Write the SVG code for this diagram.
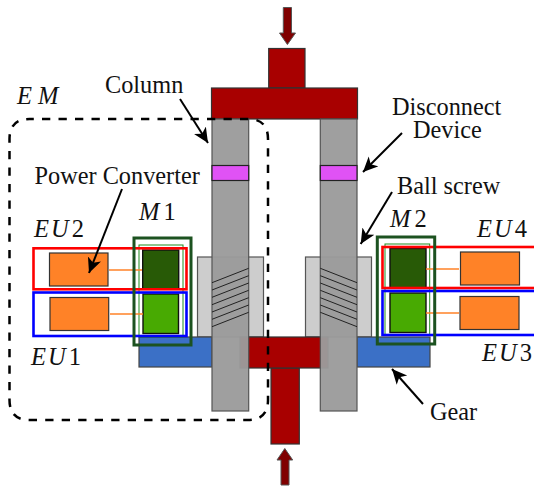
<svg xmlns="http://www.w3.org/2000/svg" width="534" height="486" viewBox="0 0 534 486">
<style>
.t{font-family:"Liberation Serif",serif;font-size:24.3px;fill:#111}
.i{font-style:italic;font-size:24.5px}
.u{font-style:normal}
.o{fill:#ff8227;stroke:#333;stroke-width:1.2}
.c{fill:#9b9b9b;stroke:#555;stroke-width:1.2;fill-opacity:.96}
.r{fill:#a80000;stroke:#333;stroke-width:1.2}
.d{fill:#800000;stroke:#555;stroke-width:1}
.n{fill:#cdcdcd;stroke:#555;stroke-width:1.2}
.g{fill:#3b70c6;stroke:#444;stroke-width:1.2}
.p{fill:#e052f5;stroke:#222;stroke-width:1.2}
.m1{fill:#285a06;stroke:#111;stroke-width:1.4}
.m2{fill:#48aa02;stroke:#111;stroke-width:1.4}
.th{fill:none;stroke:#1e8c1e;stroke-width:1}
.fr{fill:none;stroke:#1c5220;stroke-width:3}
.eur{fill:none;stroke:#f00;stroke-width:2.6}
.eub{fill:none;stroke:#00f;stroke-width:2.6}
.l{stroke:#ff8227;stroke-width:1.5;fill:none}
.s{stroke:#222;stroke-width:1;fill:none}
.a{stroke:#000;stroke-width:2;fill:none;marker-end:url(#h)}
</style>
<defs>
<marker id="h" markerUnits="userSpaceOnUse" markerWidth="18" markerHeight="16" refX="15" refY="7" orient="auto">
<path d="M0 0L15 7L0 14L4 7Z" fill="#000"/>
</marker>
</defs>
<g id="load-frame">
<rect class="n" x="197.5" y="257" width="66" height="80"/>
<rect class="n" x="305.5" y="257" width="66" height="80"/>
<rect class="r" x="268.7" y="48.5" width="36.3" height="39.5"/>
<rect class="r" x="211.500" y="88" width="146" height="31"/>
<rect class="r" x="271" y="368" width="28.3" height="76"/>
<rect class="r" x="240" y="337" width="88" height="31"/>
<rect class="g" x="139" y="337" width="73" height="30"/>
<rect class="g" x="357" y="337" width="73" height="30"/>
<rect class="c" x="212" y="119" width="36.7" height="292"/>
<rect class="c" x="320.3" y="119" width="36.7" height="292"/>
<rect class="p" x="212" y="165.5" width="36.7" height="15"/>
<rect class="p" x="320.3" y="165.5" width="36.7" height="15"/>
<path class="s" d="M212 282.7L248.7 268.3M212 290L248.7 275.7M212 297.3L248.7 283M212 304.7L248.7 290.3M212 312L248.7 297.7M212 319.3L248.7 305M212 326.7L248.7 312.3"/>
<path class="s" d="M320.3 268.3L357 282.7M320.3 275.7L357 290M320.3 283L357 297.3M320.3 290.3L357 304.7M320.3 297.7L357 312M320.3 305L357 319.3M320.3 312.3L357 326.7"/>
</g>
<g id="top-arrow"><path class="d" d="M283.3 7.5H291.5V33H295.5L287.4 44.5L279.5 33H283.3Z"/></g>
<g id="bottom-arrow"><path class="d" d="M281 485V460H277L284.8 448.5L292.7 460H289V485Z"/></g>
<g id="M1">
<rect class="th" x="139" y="245" width="44" height="92"/>
<rect class="m1" x="142.7" y="250" width="36" height="39"/>
<rect class="m2" x="143" y="294" width="35.5" height="39.5"/>
</g>
<g id="M2">
<rect class="th" x="385" y="244" width="44.7" height="91"/>
<rect class="m1" x="390" y="248.5" width="36" height="39.5"/>
<rect class="m2" x="390" y="293" width="36" height="39.5"/>
</g>
<g id="EU2">
<rect class="o" x="49.5" y="253" width="58.5" height="33"/>
<path class="l" d="M109 270H142"/>
<rect class="eur" x="33.5" y="248.3" width="153" height="41"/>
</g>
<g id="EU1">
<rect class="o" x="50" y="297.5" width="58.7" height="33"/>
<path class="l" d="M110 314H143"/>
<rect class="eub" x="33.5" y="292.5" width="153" height="43.5"/>
</g>
<g id="EU4">
<rect class="o" x="460.5" y="252" width="59" height="33"/>
<path class="l" d="M426 269H459"/>
<rect class="eur" x="382.5" y="247" width="155" height="41"/>
</g>
<g id="EU3">
<rect class="o" x="460" y="296.5" width="59" height="33"/>
<path class="l" d="M426 313H459"/>
<rect class="eub" x="382.5" y="291" width="155" height="44"/>
</g>
<rect id="frame-M1" class="fr" x="134" y="238" width="57" height="107"/>
<rect id="frame-M2" class="fr" x="377.3" y="237" width="57.4" height="107"/>
<g id="connectors">
<path d="M29.500 119H248Q268 119 268 139V400Q268 420 248 420H29.500Q9.500 420 9.500 400V139Q9.500 119 29.500 119Z" fill="none" stroke="#000" stroke-width="2.5" stroke-dasharray="8.300 8.200" stroke-dashoffset="4"/>
<path class="a" d="M180 99L208 143"/>
<path class="a" d="M122 189L89 273"/>
<path class="a" d="M402 133L363 172"/>
<path class="a" d="M392 192L360.700 244"/>
<path class="a" d="M423 404L392 369"/>
</g>
<g id="labels">
<text class="t i" x="17" y="104">E<tspan dx="6">M</tspan></text>
<text class="t" x="105" y="93">Column</text>
<text class="t" x="34.500" y="184">Power Converter</text>
<text class="t" x="392" y="115">Disconnect</text>
<text class="t" x="413" y="138">Device</text>
<text class="t" x="397" y="194">Ball screw</text>
<text class="t" x="430" y="420">Gear</text>
<text class="t i" x="139" y="220">M<tspan class="u" dx="4">1</tspan></text>
<text class="t i" x="390" y="227">M<tspan class="u" dx="4">2</tspan></text>
<text class="t i" x="34" y="237">E<tspan dx="2">U</tspan><tspan class="u" dx="3">2</tspan></text>
<text class="t i" x="31" y="365">E<tspan dx="2">U</tspan><tspan class="u" dx="3">1</tspan></text>
<text class="t i" x="477" y="237">E<tspan dx="2">U</tspan><tspan class="u" dx="3">4</tspan></text>
<text class="t i" x="482" y="361">E<tspan dx="2">U</tspan><tspan class="u" dx="3">3</tspan></text>
</g>
</svg>
